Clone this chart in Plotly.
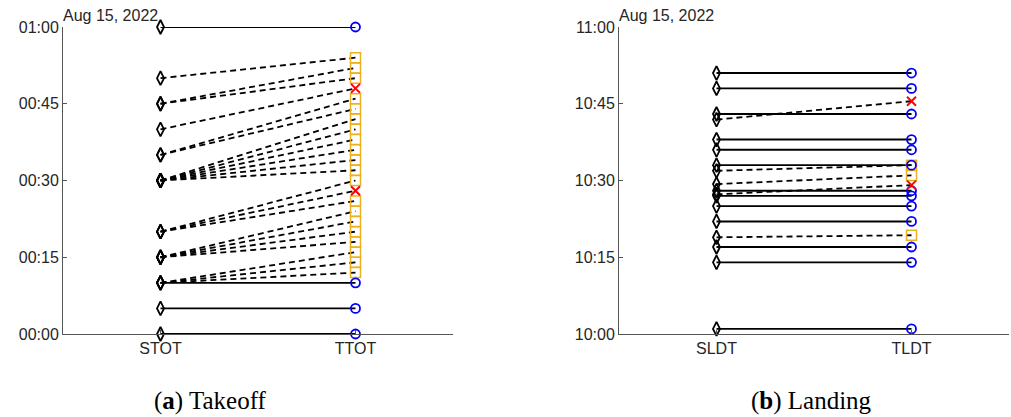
import plotly.graph_objects as go

# ---------------- data ----------------
DATE_LABEL = "Aug 15, 2022"
Y_TICK_MIN = [0, 15, 30, 45, 60]
TO_YTICKS = ["00:00", "00:15", "00:30", "00:45", "01:00"]
LD_YTICKS = ["10:00", "10:15", "10:30", "10:45", "11:00"]
TO_CATS = ["STOT", "TTOT"]
LD_CATS = ["SLDT", "TLDT"]
CAPTIONS = ["(<b>a</b>) Takeoff", "(<b>b</b>) Landing"]

# Takeoff: minutes after 00:00
to_sched = [60, 50, 45, 45, 40, 35, 35, 30, 30, 30, 30, 30, 30,
            20, 20, 20, 15, 15, 15, 15, 10, 10, 10, 10, 5, 0]
to_target = [60, 54, 52, 50, 48, 46, 44, 42, 40, 38, 36, 34, 32,
             30, 28, 26, 24, 22, 20, 18, 16, 14, 12, 10, 5, 0]
to_status = ["o", "s", "s", "s", "x", "s", "s", "s", "s", "s", "s", "s", "s",
             "s", "x", "s", "s", "s", "s", "s", "s", "s", "s", "o", "o", "o"]

# Landing: minutes after 10:00
ld_sched = [51, 48, 43, 41.9, 38, 36, 33, 31.9, 29.3, 28, 27.3, 27,
            25, 22, 18.9, 17, 14, 1]
ld_target = [51, 48, 43, 45.5, 38, 36, 33, 33.0, 31.0, 28, 29.1, 27,
             25, 22, 19.3, 17, 14, 1]
ld_status = ["o", "o", "o", "x", "o", "o", "o", "s", "s", "o", "x", "o",
             "o", "o", "s", "o", "o", "o"]

TEXT_COLOR = "#262626"
AXIS_COLOR = "#555555"

fig = go.Figure()


def add_panel(sched, target, status, xa, ya):
    sx, sy, dx, dy = [], [], [], []
    for s, t in zip(sched, target):
        if s == t:
            sx += [1, 2, None]
            sy += [s, t, None]
        else:
            dx += [1, 2, None]
            dy += [s, t, None]
    fig.add_trace(go.Scatter(x=sx, y=sy, mode="lines", xaxis=xa, yaxis=ya,
                             line=dict(color="black", width=1.9),
                             showlegend=False, hoverinfo="skip", cliponaxis=False))
    fig.add_trace(go.Scatter(x=dx, y=dy, mode="lines", xaxis=xa, yaxis=ya,
                             line=dict(color="black", width=1.8, dash="6px,4px"),
                             showlegend=False, hoverinfo="skip", cliponaxis=False))
    fig.add_trace(go.Scatter(x=[1] * len(sched), y=sched, mode="markers",
                             xaxis=xa, yaxis=ya, cliponaxis=False, showlegend=False,
                             marker=dict(symbol="diamond-tall-open", size=10, color="black",
                                         line=dict(width=1.8, color="black"))))
    styles = {
        "s": dict(symbol="square-open", size=10, color="#EDB120",
                  line=dict(width=1.5, color="#EDB120")),
        "o": dict(symbol="circle-open", size=9, color="#0000FF",
                  line=dict(width=1.8, color="#0000FF")),
        "x": dict(symbol="x-thin-open", size=9, color="#FF0000",
                  line=dict(width=2, color="#FF0000")),
    }
    for key in ["s", "o", "x"]:
        ys = [t for t, st in zip(target, status) if st == key]
        fig.add_trace(go.Scatter(x=[2] * len(ys), y=ys, mode="markers",
                                 xaxis=xa, yaxis=ya, cliponaxis=False,
                                 showlegend=False, marker=styles[key]))


add_panel(to_sched, to_target, to_status, "x", "y")
add_panel(ld_sched, ld_target, ld_status, "x2", "y2")

W, H = 1011, 417
y_dom = [(H - 334) / H, (H - 27) / H]
x_dom1 = [63 / W, 453 / W]
x_dom2 = [619 / W, 1009 / W]

tick_font = dict(family="Liberation Sans", size=16, color=TEXT_COLOR)


def xaxis(dom, cats, anchor):
    return dict(domain=dom, range=[0.5, 2.5], tickvals=[1, 2], ticktext=cats,
                showline=True, linecolor=AXIS_COLOR, linewidth=1, ticks="inside",
                ticklen=4, tickcolor=AXIS_COLOR, showgrid=False, zeroline=False,
                tickfont=tick_font, anchor=anchor, fixedrange=True, automargin=False)


def yaxis(labels, anchor):
    return dict(domain=y_dom, range=[0, 60], tickvals=Y_TICK_MIN, ticktext=labels,
                showline=True, linecolor=AXIS_COLOR, linewidth=1, ticks="inside",
                ticklen=4, tickcolor=AXIS_COLOR, showgrid=False, zeroline=False,
                tickfont=tick_font, anchor=anchor, fixedrange=True, automargin=False)


fig.update_layout(
    width=W, height=H,
    margin=dict(l=0, r=0, t=0, b=0, pad=0, autoexpand=False),
    paper_bgcolor="white", plot_bgcolor="white",
    xaxis=xaxis(x_dom1, TO_CATS, "y"),
    yaxis=yaxis(TO_YTICKS, "x"),
    xaxis2=xaxis(x_dom2, LD_CATS, "y2"),
    yaxis2=yaxis(LD_YTICKS, "x2"),
)

annotations = []
for xpx in [61, 617]:
    annotations.append(dict(text=DATE_LABEL, x=xpx / W, y=(H - 26) / H,
                            xref="paper", yref="paper", xanchor="left",
                            yanchor="bottom", showarrow=False,
                            font=dict(family="Liberation Sans", size=16,
                                      color=TEXT_COLOR)))
for cap, cx in zip(CAPTIONS, [210, 811]):
    annotations.append(dict(text=cap, x=cx / W, y=(H - 401) / H,
                            xref="paper", yref="paper", xanchor="center",
                            yanchor="middle", showarrow=False,
                            font=dict(family="Liberation Serif", size=25,
                                      color="black")))
fig.update_layout(annotations=annotations)

fig.write_html("out.html")
